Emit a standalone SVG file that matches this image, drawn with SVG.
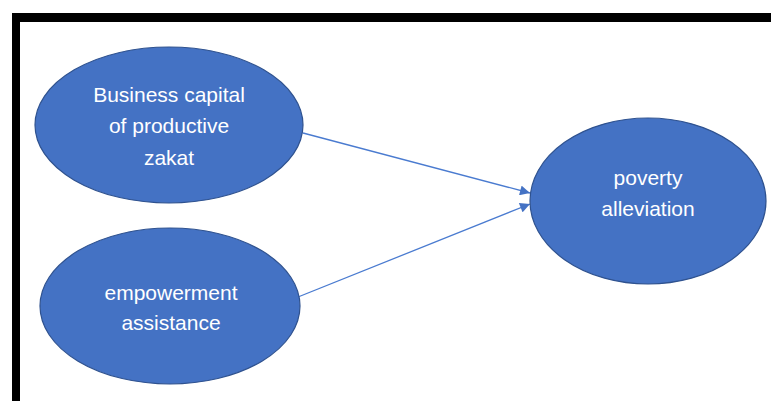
<svg xmlns="http://www.w3.org/2000/svg" width="771" height="401" viewBox="0 0 771 401">
<style>
.node{fill:#4472C4;stroke:#2F528F;stroke-width:1.2}
.lbl{font-family:"Liberation Sans",Arial,sans-serif;font-size:21px;fill:#ffffff;text-anchor:middle}
.edge{stroke:#4A7BD0;stroke-width:1.3;fill:none}
</style>
<defs>
<marker id="arrow" viewBox="0 0 10 10" refX="10" refY="5" markerWidth="12" markerHeight="10" markerUnits="userSpaceOnUse" orient="auto">
<path d="M0,0 L10,5 L0,10 Z" fill="#4472C4"/>
</marker>
</defs>
<rect x="0" y="0" width="771" height="401" fill="#ffffff"/>
<g id="frame">
<rect x="12" y="13" width="759" height="9" fill="#000000"/>
<rect x="12" y="13" width="8" height="388" fill="#000000"/>
</g>
<g id="connectors">
<line class="edge" x1="303" y1="133" x2="530" y2="193" marker-end="url(#arrow)"/>
<line class="edge" x1="298" y1="297" x2="530" y2="204" marker-end="url(#arrow)"/>
</g>
<g id="node-business">
<ellipse class="node" cx="169" cy="125" rx="134" ry="78"/>
<text class="lbl" x="169" y="102">Business capital</text>
<text class="lbl" x="169" y="133">of productive</text>
<text class="lbl" x="169" y="165">zakat</text>
</g>
<g id="node-empowerment">
<ellipse class="node" cx="170" cy="306" rx="130" ry="78"/>
<text class="lbl" x="171" y="300">empowerment</text>
<text class="lbl" x="171" y="330">assistance</text>
</g>
<g id="node-poverty">
<ellipse class="node" cx="648" cy="201" rx="118" ry="83"/>
<text class="lbl" x="648" y="185">poverty</text>
<text class="lbl" x="648" y="216">alleviation</text>
</g>
</svg>
